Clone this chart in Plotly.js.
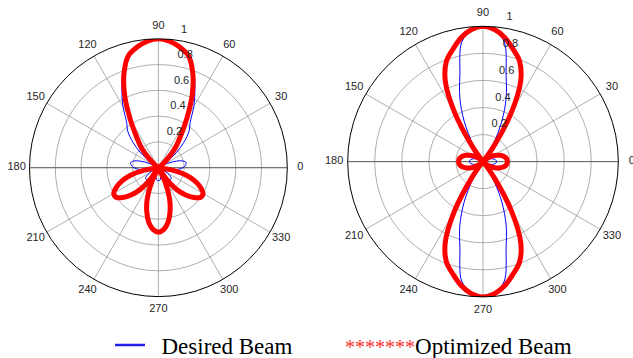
<!DOCTYPE html>
<html><head><meta charset="utf-8">
<script src="https://cdn.plot.ly/plotly-3.0.1.min.js"></script>
<style>html,body{margin:0;padding:0;background:#fff}#chart{width:633px;height:358px}</style>
</head><body><div id="chart"></div>
<script>
// sampling angles (degrees)
const angleDeg = [0,5,10,15,20,25,30,35,40,45,50,55,60,65,70,75,80,85,90,95,100,105,110,115,120,125,130,135,140,145,150,155,160,165,170,175,180,185,190,195,200,205,210,215,220,225,230,235,240,245,250,255,260,265,270,275,280,285,290,295,300,305,310,315,320,325,330,335,340,345,350,355,360];

// left chart
const leftDesired = [0.19,0.21,0.22,0.20,0.15,0.08,0.02,0.08,0.18,0.28,0.37,0.43,0.55,0.67,0.80,0.90,0.95,0.985,1.0,0.985,0.95,0.90,0.80,0.67,0.55,0.43,0.37,0.28,0.18,0.08,0.02,0.08,0.15,0.20,0.22,0.21,0.19,0.15,0.10,0.05,0.01,0.04,0.08,0.11,0.13,0.13,0.11,0.07,0.03,0.01,0.04,0.07,0.09,0.10,0.10,0.10,0.09,0.07,0.04,0.01,0.03,0.07,0.11,0.13,0.13,0.11,0.08,0.04,0.01,0.05,0.10,0.15,0.19];
const leftOptimized = [0,0,0,0,0,0,0,0,0.04,0.11,0.21,0.30,0.44,0.62,0.78,0.90,0.95,0.985,1.0,0.985,0.95,0.90,0.78,0.62,0.44,0.30,0.21,0.11,0.04,0,0,0,0,0,0,0,0,0,0.11,0.22,0.30,0.36,0.40,0.40,0.36,0.30,0.22,0.11,0,0.12,0.25,0.35,0.43,0.48,0.50,0.48,0.43,0.35,0.25,0.12,0,0.11,0.22,0.30,0.36,0.40,0.40,0.36,0.30,0.22,0.11,0,0];

// right chart
const rightDesired = [0.10,0.098,0.09,0.078,0.062,0.045,0.028,0.012,0,0,0,0.05,0.16,0.33,0.50,0.66,0.90,0.97,1.0,0.97,0.90,0.66,0.50,0.33,0.16,0.05,0,0,0,0.012,0.028,0.045,0.062,0.078,0.09,0.098,0.10,0.098,0.09,0.078,0.062,0.045,0.028,0.012,0,0,0,0.05,0.16,0.33,0.50,0.66,0.90,0.97,1.0,0.97,0.90,0.66,0.50,0.33,0.16,0.05,0,0,0,0.012,0.028,0.045,0.062,0.078,0.09,0.098,0.10];
const rightOptimized = [0.18,0.178,0.17,0.155,0.135,0.11,0.085,0.055,0.025,0,0,0.14,0.42,0.66,0.79,0.86,0.93,0.98,1.0,0.98,0.93,0.86,0.79,0.66,0.42,0.14,0,0,0.025,0.055,0.085,0.11,0.135,0.155,0.17,0.178,0.18,0.178,0.17,0.155,0.135,0.11,0.085,0.055,0.025,0,0,0.14,0.42,0.66,0.79,0.86,0.93,0.98,1.0,0.98,0.93,0.86,0.79,0.66,0.42,0.14,0,0,0.025,0.055,0.085,0.11,0.135,0.155,0.17,0.178,0.18];

const angleTicks = [0,30,60,90,120,150,180,210,240,270,300,330];
const angleTickText = ['0','30','60','90','120','150','180','210','240','270','300','330'];
const radialTicks = [0.2,0.4,0.6,0.8,1];
const radialTickText = ['0.2','0.4','0.6','0.8','1'];
const seriesNames = ['Desired Beam','Optimized Beam'];

const W = 633, H = 358;
const BLUE = '#0000ff', RED = '#ff0000';
const tickFont = {family:'Liberation Sans, Arial, sans-serif', size:11, color:'#262626'};
const ANGLE_LABEL_R = 1.1;     // MATLAB-style label radius (fraction of rmax)
const RADIAL_LABEL_ANGLE = 82; // MATLAB-style radial label direction
// plot geometry in pixels: centre x, centre y (from top), radius
const GEO = {left:{cx:158.4, cy:167.7, R:128.9}, right:{cx:483, cy:161.6, R:135.3}};

function domainFor(g, scale) {
  const R = g.R * scale;
  return {x:[(g.cx - R)/W, (g.cx + R)/W], y:[(H - g.cy - R)/H, (H - g.cy + R)/H]};
}
function beam(r, sub, color, width) {
  return {type:'scatterpolar', mode:'lines', r:r, theta:angleDeg, subplot:sub,
    line:{color:color, width:width, shape:'spline', smoothing:1}, showlegend:false, hoverinfo:'skip'};
}
function axisLine(sub) { // darker 0-180 reference line
  return {type:'scatterpolar', mode:'lines', r:[1,1], theta:[0,180], subplot:sub,
    line:{color:'#4d4d4d', width:0.8}, showlegend:false, hoverinfo:'skip'};
}
function angleLabels(sub) {
  return {type:'scatterpolar', mode:'text', subplot:sub, theta:angleTicks,
    r:angleTicks.map(() => ANGLE_LABEL_R), text:angleTickText, textposition:'middle center',
    textfont:tickFont, cliponaxis:false, showlegend:false, hoverinfo:'skip'};
}
function radialLabels(sub) {
  return {type:'scatterpolar', mode:'markers+text', subplot:sub, r:radialTicks,
    theta:radialTicks.map(() => RADIAL_LABEL_ANGLE), text:radialTickText, textposition:'top right',
    marker:{size:6, color:'rgba(0,0,0,0)'}, textfont:tickFont, cliponaxis:false, showlegend:false, hoverinfo:'skip'};
}
const traces = [
  axisLine('polar'), axisLine('polar2'),
  beam(leftDesired,'polar',BLUE,1),
  beam(leftOptimized,'polar',RED,5),
  beam(rightDesired,'polar2',BLUE,1),
  beam(rightOptimized,'polar2',RED,5),
  radialLabels('polar'), radialLabels('polar2'),
  angleLabels('polar3'), angleLabels('polar4'),
  {type:'scatterpolar', mode:'lines', r:[null], theta:[null], subplot:'polar',
    name:'\u00a0\u00a0' + seriesNames[0] + '\u00a0\u200a',
    line:{color:'#2222ee', width:2.5}, showlegend:true},
  {type:'scatterpolar', mode:'lines', r:[null], theta:[null], subplot:'polar',
    name:'<span style="color:#ff3333;font-size:20px">*******</span>' + seriesNames[1],
    line:{color:'rgba(0,0,0,0)', width:1}, showlegend:true}
];

function polarLayout(g) {
  return {
    domain:domainFor(g, 1), bgcolor:'#fff',
    radialaxis:{range:[0,1], tickvals:radialTicks, showticklabels:false, showline:false, ticks:'',
      gridcolor:'#8c8c8c', gridwidth:0.7},
    angularaxis:{rotation:0, direction:'counterclockwise', tickvals:angleTicks, showticklabels:false,
      showline:true, linecolor:'#000', linewidth:1, gridcolor:'#8c8c8c', gridwidth:0.7, ticks:''}
  };
}
function labelLayout(g) { // invisible overlay polar with the same scale, extended to the label radius
  return {
    domain:domainFor(g, ANGLE_LABEL_R), bgcolor:'rgba(0,0,0,0)',
    radialaxis:{range:[0,ANGLE_LABEL_R], visible:false},
    angularaxis:{rotation:0, direction:'counterclockwise', visible:false}
  };
}
const layout = {
  width:W, height:H, margin:{l:0,r:0,t:0,b:0, autoexpand:false}, paper_bgcolor:'#fff',
  polar: polarLayout(GEO.left),
  polar2: polarLayout(GEO.right),
  polar3: labelLayout(GEO.left),
  polar4: labelLayout(GEO.right),
  showlegend:true,
  legend:{orientation:'h', x:110/W, xanchor:'left', y:13/H, yanchor:'middle',
    font:{family:'Liberation Serif, Times New Roman, serif', size:23, color:'#000'},
    bgcolor:'rgba(0,0,0,0)', itemwidth:30}
};
Plotly.newPlot('chart', traces, layout, {displayModeBar:false, staticPlot:true});
</script></body></html>
